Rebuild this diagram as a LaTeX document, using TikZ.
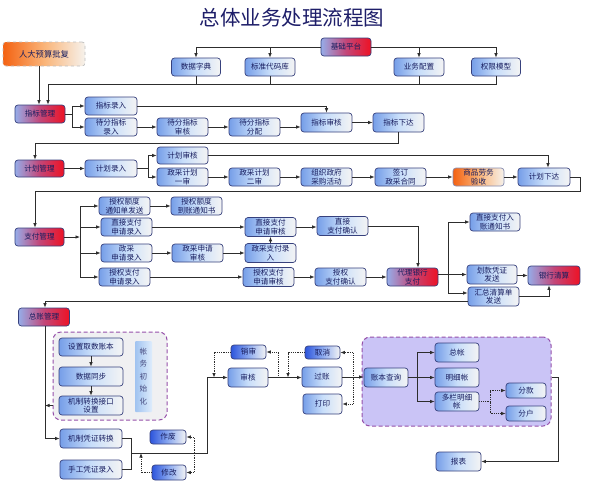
\documentclass[tikz,border=0pt]{standalone}
\usepackage{fontspec}
\setmainfont{Noto Sans CJK SC}
\usetikzlibrary{arrows.meta}
\definecolor{bord}{RGB}{55,65,125}
\definecolor{txt}{RGB}{25,30,95}
\definecolor{bl}{RGB}{118,158,232}
\definecolor{bm}{RGB}{200,222,250}
\definecolor{wr}{RGB}{244,244,244}
\definecolor{rl}{RGB}{150,172,232}
\definecolor{rm}{RGB}{195,70,120}
\definecolor{rr}{RGB}{238,18,36}
\definecolor{ol}{RGB}{244,98,18}
\definecolor{om}{RGB}{250,180,120}
\definecolor{orr}{RGB}{246,242,236}
\definecolor{dl}{RGB}{45,85,220}
\definecolor{dm}{RGB}{140,170,240}
\definecolor{lc}{RGB}{45,45,45}
\definecolor{ttl}{RGB}{30,30,105}
\definecolor{pfill}{RGB}{202,196,246}
\definecolor{pbord}{RGB}{150,80,170}
\definecolor{gfill}{RGB}{240,240,242}
\definecolor{vl}{RGB}{160,195,240}
\definecolor{vr}{RGB}{222,236,252}
\newcommand{\fsb}{\fontsize{7.6}{8.6}\selectfont}
\tikzset{
  basebox/.style={draw=bord, rounded corners=3pt, line width=0.7pt,
    minimum width=51pt, minimum height=18pt, inner sep=0pt,
    align=center, font=\fsb, text=txt},
  bx/.style={basebox, left color=bl, right color=wr, middle color=bm},
  rbx/.style={basebox, left color=rl, right color=rr, middle color=rm},
  obx/.style={basebox, left color=ol, right color=orr, middle color=om},
  dbx/.style={basebox, left color=dl, right color=wr, middle color=dm,
    minimum width=35pt, minimum height=14pt},
  ln/.style={draw=lc, line width=0.8pt},
  ar/.style={ln, -{Latex[length=4.5pt,width=3.6pt]}},
  dln/.style={ln, densely dotted},
  dar/.style={ar, densely dotted},
}
\begin{document}
\begin{tikzpicture}[x=1pt,y=-1pt]
\useasboundingbox (0,0) rectangle (596,485);
\fill[white] (0,0) rectangle (596,485);

% title
\node[font=\fontsize{20.5}{23}\selectfont, text=ttl] (title) at (292,18) {总体业务处理流程图};

% top
\node[basebox, draw=black!25, dashed, left color=ol, right color=orr, middle color=om,
      minimum width=82pt, minimum height=24pt, font=\fontsize{8.3}{9}\selectfont] (rdys) at (44,54) {人大预算批复};
\node[rbx, minimum width=50pt] (jcpt) at (346,47) {基础平台};
\node[bx, minimum width=49pt] (sjzd) at (196,67) {数据字典};
\node[bx, minimum width=50pt] (bzdm) at (270,67) {标准代码库};
\node[bx, minimum width=50pt] (ywpz) at (419,67) {业务配置};
\node[bx, minimum width=49pt] (qxmx) at (496,67) {权限模型};

% zhibiao
\node[rbx, minimum width=50pt] (zbgl) at (40,114) {指标管理};
\node[bx, minimum width=52pt] (zblr) at (111,106) {指标录入};
\node[bx, minimum width=52pt] (dflr) at (111,127) {待分指标\\录入};
\node[bx] (dfsh) at (182.5,127) {待分指标\\审核};
\node[bx] (dffp) at (254.5,127) {待分指标\\分配};
\node[bx, minimum height=19pt] (zbsh) at (326.5,122.5) {指标审核};
\node[bx, minimum height=19pt] (zbxd) at (398.5,122.5) {指标下达};

% jihua
\node[rbx, minimum width=49pt, minimum height=17pt] (jhgl) at (39.5,168.5) {计划管理};
\node[bx, minimum width=52pt, minimum height=17pt] (jhlr) at (111,168.5) {计划录入};
\node[bx, minimum height=17pt] (jhsh) at (182.5,155.5) {计划审核};
\node[bx] (zc1) at (182.5,177) {政采计划\\一审};
\node[bx] (zc2) at (254.5,177) {政采计划\\二审};
\node[bx] (zzcg) at (326.5,177) {组织政府\\采购活动};
\node[bx] (qdht) at (400.5,177) {签订\\政采合同};
\node[obx, draw=bord!60] (sply) at (478.5,177) {商品劳务\\验收};
\node[bx, minimum width=52pt] (jhxd) at (544,177) {计划下达};

% zhifu
\node[rbx, minimum width=49pt] (zfgl) at (39.5,237) {支付管理};
\node[bx] (sqtz) at (124.5,206) {授权额度\\通知单发送};
\node[bx] (dztz) at (196.5,206) {授权额度\\到账通知书};
\node[bx] (zjlr) at (126.5,227) {直接支付\\申请录入};
\node[bx, minimum height=19pt] (zjsh) at (270.5,227) {直接支付\\申请审核};
\node[bx, minimum height=19pt] (zjqr) at (342.5,226) {直接\\支付确认};
\node[bx] (zclr) at (126.5,253) {政采\\申请录入};
\node[bx] (zcsh) at (197.5,253) {政采申请\\审核};
\node[bx, minimum height=19pt] (zczf) at (270.5,253) {政采支付录\\入};
\node[bx] (sqlr) at (124.5,277) {授权支付\\申请录入};
\node[bx, minimum height=19pt] (sqsh) at (268.5,277) {授权支付\\申请审核};
\node[bx] (sqqr) at (340.5,277) {授权\\支付确认};
\node[rbx] (dlyh) at (412.5,277) {代理银行\\支付};
\node[bx, minimum width=50pt] (zjrz) at (495,222) {直接支付入\\账通知书};
\node[bx, minimum width=50pt, minimum height=19pt] (hkpz) at (492,274.5) {划款凭证\\发送};
\node[bx, minimum height=19pt] (hzqs) at (493.5,296.5) {汇总清算单\\发送};
\node[rbx, minimum width=52pt, minimum height=19pt] (yhqs) at (554,275.5) {银行清算};

% zongzhang
\node[rbx] (zzgl) at (44,317) {总账管理};
\node[draw=pbord, dashed, line width=1pt, dash pattern=on 4pt off 2.5pt, fill=gfill,
      rounded corners=8pt, minimum width=114pt, minimum height=88pt, inner sep=0pt] (inibox) at (110,376) {};
\node[bx, minimum width=64pt] (szzb) at (91,347) {设置取数账本};
\node[bx, minimum width=64pt, minimum height=19pt] (sjtb) at (91,376.5) {数据同步};
\node[bx, minimum width=64pt, minimum height=19pt] (jzjk) at (91,405.5) {机制转换接口\\设置};
\node[left color=vl, right color=vr, minimum width=17pt, minimum height=71pt, inner sep=0pt,
      rounded corners=1pt, align=center, text=txt!80, font=\fontsize{7.6}{12.5}\selectfont] (zwcsh) at (143.5,376.5) {帐\\务\\初\\始\\化};
\node[bx, minimum width=62pt, minimum height=19pt] (jzpz) at (91,438.5) {机制凭证转换};
\node[bx, minimum width=62pt, minimum height=19pt] (sgpz) at (91,469.5) {手工凭证录入};
\node[dbx, minimum width=36pt] (zf) at (168,437) {作废};
\node[dbx, minimum width=34pt, minimum height=15pt] (xg) at (169,472.5) {修改};

\node[bx, minimum width=40pt, minimum height=19pt] (shh) at (248,377.5) {审核};
\node[dbx] (xs) at (248.5,352) {销审};
\node[bx, minimum width=40pt, minimum height=20pt] (gz) at (322,377) {过账};
\node[dbx, minimum height=13pt] (qx) at (322.5,352.5) {取消};
\node[bx, minimum width=39pt, minimum height=20pt] (dy) at (322.5,404) {打印};

\node[draw=pbord, dashed, line width=1pt, dash pattern=on 4pt off 2.5pt, fill=pfill,
      rounded corners=8pt, minimum width=189pt, minimum height=89pt, inner sep=0pt] (pbox) at (456.5,381.5) {};
\node[bx, minimum width=44pt, minimum height=19pt] (zbcx) at (386,377.5) {账本查询};
\node[bx, minimum width=44pt, minimum height=19pt] (zz) at (457,352.5) {总帐};
\node[bx, minimum width=44pt, minimum height=19pt] (mxz) at (457,377.5) {明细帐};
\node[bx, minimum width=44pt, minimum height=19pt] (dlmx) at (457,401.5) {多栏明细\\帐};
\node[bx, minimum width=40pt, minimum height=15pt] (fk) at (526,390.5) {分款};
\node[bx, minimum width=40pt, minimum height=15pt] (fh) at (526,413.5) {分户};
\node[bx, minimum width=45pt, minimum height=19pt] (bb) at (458.5,461.5) {报表};

% ---------- connectors ----------
% top
\draw[ar] (jcpt.west) -| (sjzd.north);
\draw[ar] (jcpt.west -| bzdm.north) -- (bzdm.north);
\draw[ar] (jcpt.east) -| (qxmx.north);
\draw[ar] (jcpt.east -| ywpz.north) -- (ywpz.north);
\coordinate (j1) at (48,84);
\draw[ln] (qxmx.south) |- (j1);
\draw[ln] (sjzd.south) -- (sjzd.south |- j1);
\draw[ln] (bzdm.south) -- (bzdm.south |- j1);
\draw[ln] (ywpz.south) -- (ywpz.south |- j1);
\draw[ar] (j1) -- (j1 |- zbgl.north);
\coordinate (j0) at (39,0);
\draw[ar] (j0 |- rdys.south) -- (j0 |- zbgl.north);

% zhibiao
\coordinate (b1) at (72,0);
\draw[ln] (zbgl.east) -- (zbgl.east -| b1);
\draw[ar] (zbgl.east -| b1) |- (zblr.west);
\draw[ar] (zbgl.east -| b1) |- (dflr.west);
\draw[ar] (dflr) -- (dfsh);
\draw[ar] (dfsh) -- (dffp);
\draw[ar] (dffp.east) -- (dffp.east -| zbsh.west);
\draw[ar] (zblr.east) -| (zbsh.north);
\draw[ar] (zbsh) -- (zbxd);
\coordinate (c1) at (35,143);
\draw[ar] (zbxd.south) |- (c1) -- (c1 |- jhgl.north);

% jihua
\draw[ar] (jhgl) -- (jhlr);
\coordinate (b2) at (148,0);
\draw[ln] (jhlr.east) -- (jhlr.east -| b2);
\draw[ar] (jhlr.east -| b2) |- (jhsh.west);
\draw[ar] (jhlr.east -| b2) |- (zc1.west);
\draw[ar] (zc1) -- (zc2);
\draw[ar] (zc2) -- (zzcg);
\draw[ar] (zzcg) -- (qdht);
\draw[ar] (qdht) -- (sply);
\draw[ar] (sply) -- (jhxd);
\draw[ar] (jhsh.east) -| ([xshift=4pt]jhxd.north);
\coordinate (c2) at (580,191);
\coordinate (c3) at (35,191);
\draw[ar] (jhxd.east) -| (c2) -- (c3) -- (c3 |- zfgl.north);

% zhifu
\coordinate (b3) at (80,0);
\draw[ar] (zfgl.east) -- (zfgl.east -| b3);
\draw[ln] (b3 |- sqtz.west) -- (b3 |- sqlr.west);
\draw[ar] (b3 |- sqtz.west) -- (sqtz.west);
\draw[ar] (b3 |- zjlr.west) -- (zjlr.west);
\draw[ar] (b3 |- zclr.west) -- (zclr.west);
\draw[ar] (b3 |- sqlr.west) -- (sqlr.west);
\draw[ar] (sqtz) -- (dztz);
\draw[ar] (zjlr) -- (zjsh);
\draw[ar] (zclr) -- (zcsh);
\draw[ar] (zcsh) -- (zczf);
\draw[ar] (zczf) -- (zjsh);
\draw[ar] (zjsh.east) -- (zjsh.east -| zjqr.west);
\draw[ar] (zjqr.east) -| ([xshift=5.5pt]dlyh.north);
\draw[ar] (sqlr) -- (sqsh);
\draw[ar] (sqsh) -- (sqqr);
\draw[ar] (sqqr) -- (dlyh);
\coordinate (b4) at (448,0);
\draw[ar] (dlyh.east |- hkpz) -- (hkpz.west);
\draw[ar] (b4 |- hkpz) |- (zjrz.west);
\draw[ar] (b4 |- hkpz) |- ([yshift=3.5pt]hzqs.west);
\draw[ar] (hkpz.east |- yhqs) -- (yhqs.west);
\draw[ar] (hzqs.east) -| ([xshift=-5pt]yhqs.south);
\coordinate (c4) at (45,301);
\draw[ar] ([yshift=-4.5pt]hzqs.west) -| (c4 |- zzgl.north);

% zongzhang
\draw[ar] (szzb.south) -- (sjtb.north);
\draw[ar] (sjtb.south) -- (jzjk.north);
\draw[ar] (c4 |- zzgl.south) |- (jzpz.west);
\draw[ar] (inibox.west |- jzjk) -- (c4 |- jzjk);
\coordinate (m1) at (131,453);
\coordinate (m2) at (207,453);
\draw[ln] (jzpz.east) -| (m1);
\draw[ln] (sgpz.east) -| (m1);
\draw[ar] (m1) -- (m2) |- (shh.west);
\coordinate (d1) at (194,453);
\draw[dar] (d1) |- (zf.east);
\draw[dar] (d1) |- (xg.east);
\coordinate (d2) at (141,453);
\draw[dar] (xg.west) -| (d2);

\coordinate (d3) at (214,377.5);
\coordinate (d4) at (278,377.5);
\coordinate (d5) at (288,377.5);
\coordinate (d6) at (353,377.5);
\draw[dar] (xs.west) -| (d3);
\draw[dar] (d4) |- (xs.east);
\draw[ar] (shh.east) -- (shh.east -| gz.west);
\draw[dar] (qx.west) -| (d5);
\draw[dar] (d6) |- (qx.east);
\draw[dar] (d6) |- (dy.east);
\draw[ar] (gz.east) -- (gz.east -| zbcx.west);

\coordinate (b5) at (417,377.5);
\draw[ar] (zbcx) -- (mxz);
\draw[ar] (b5) |- (zz.west);
\draw[ar] (b5) |- (dlmx.west);
\coordinate (d7) at (490,401.5);
\draw[dln] (dlmx.east) -- (d7);
\draw[dar] (d7) |- (fk.west);
\draw[dar] (d7) |- (fh.west);
\coordinate (c6) at (558,377.5);
\draw[ar] (pbox.east |- c6) -- (c6) |- (bb.east);
\end{tikzpicture}
\end{document}
